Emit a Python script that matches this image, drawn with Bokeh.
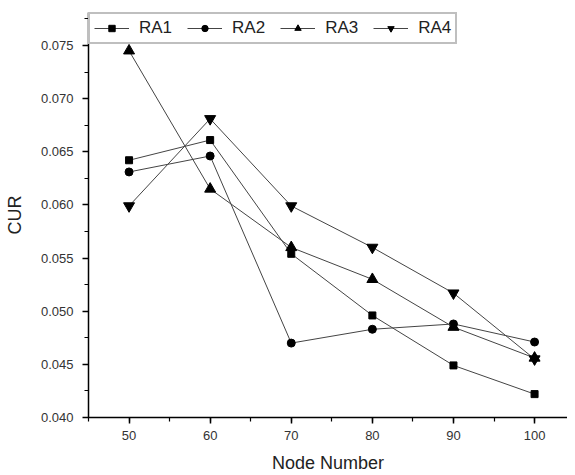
from bokeh.plotting import figure
from bokeh.models import SingleIntervalTicker, Legend, LegendItem, Range1d, NumeralTickFormatter
from bokeh.embed import file_html
from bokeh.resources import INLINE

nodes = [50, 60, 70, 80, 90, 100]
ra1 = [0.0642, 0.0661, 0.0554, 0.0496, 0.0449, 0.0422]
ra2 = [0.0631, 0.0646, 0.0470, 0.0483, 0.0488, 0.0471]
ra3 = [0.0745, 0.0615, 0.0560, 0.0530, 0.0485, 0.0456]
ra4 = [0.0599, 0.0681, 0.0599, 0.0560, 0.0517, 0.0455]
names = ["RA1", "RA2", "RA3", "RA4"]
markers = ["square", "circle", "triangle", "inverted_triangle"]
msizes = [7, 8, 11, 11]

FONT = "Liberation Sans"

p = figure(frame_width=479, frame_height=405, output_backend="svg", toolbar_location=None,
           x_range=Range1d(45, 104.06), y_range=Range1d(0.040, 0.0781),
           min_border_left=88, min_border_right=0, min_border_top=12, min_border_bottom=56)
p.outline_line_color = None
p.grid.visible = False

items = []
for name, mk, ms, ys in zip(names, markers, msizes, [ra1, ra2, ra3, ra4]):
    ln = p.line(nodes, ys, line_color="#444444", line_width=1)
    sc = p.scatter(nodes, ys, marker=mk, size=ms,
                   fill_color="black", line_color="black")
    items.append(LegendItem(label=name, renderers=[ln, sc]))

legend = Legend(items=items, orientation="horizontal", location="top_left",
                margin=0, padding=4, spacing=15, glyph_width=35, glyph_height=16,
                label_text_font=FONT, label_text_font_size="17px",
                label_text_color="#222222", label_standoff=10, label_height=16,
                border_line_color="#808080", border_line_width=2,
                background_fill_alpha=1.0)
p.add_layout(legend, "center")

p.xaxis.ticker = SingleIntervalTicker(interval=10, num_minor_ticks=2)
p.yaxis.ticker = SingleIntervalTicker(interval=0.005, num_minor_ticks=2)
p.yaxis.formatter = NumeralTickFormatter(format="0.000")

for ax in (p.xaxis, p.yaxis):
    ax.axis_line_width = 1.5
    ax.axis_line_color = "black"
    ax.major_tick_line_color = "black"
    ax.minor_tick_line_color = "black"
    ax.major_tick_line_width = 1.5
    ax.minor_tick_line_width = 1.2
    ax.major_tick_out = 6
    ax.major_tick_in = 0
    ax.minor_tick_out = 4
    ax.minor_tick_in = 0
    ax.major_label_text_font = FONT
    ax.major_label_text_font_size = "13px"
    ax.major_label_text_color = "#333333"
    ax.axis_label_text_font = FONT
    ax.axis_label_text_font_size = "18px"
    ax.axis_label_text_font_style = "normal"
    ax.axis_label_text_color = "#222222"

p.xaxis.axis_label = "Node Number"
p.yaxis.axis_label = "CUR"
p.xaxis.major_label_standoff = 7
p.xaxis.axis_label_standoff = 10
p.yaxis.major_label_standoff = 9
p.yaxis.axis_label_standoff = 13

open("out.html", "w").write(file_html(p, INLINE))
